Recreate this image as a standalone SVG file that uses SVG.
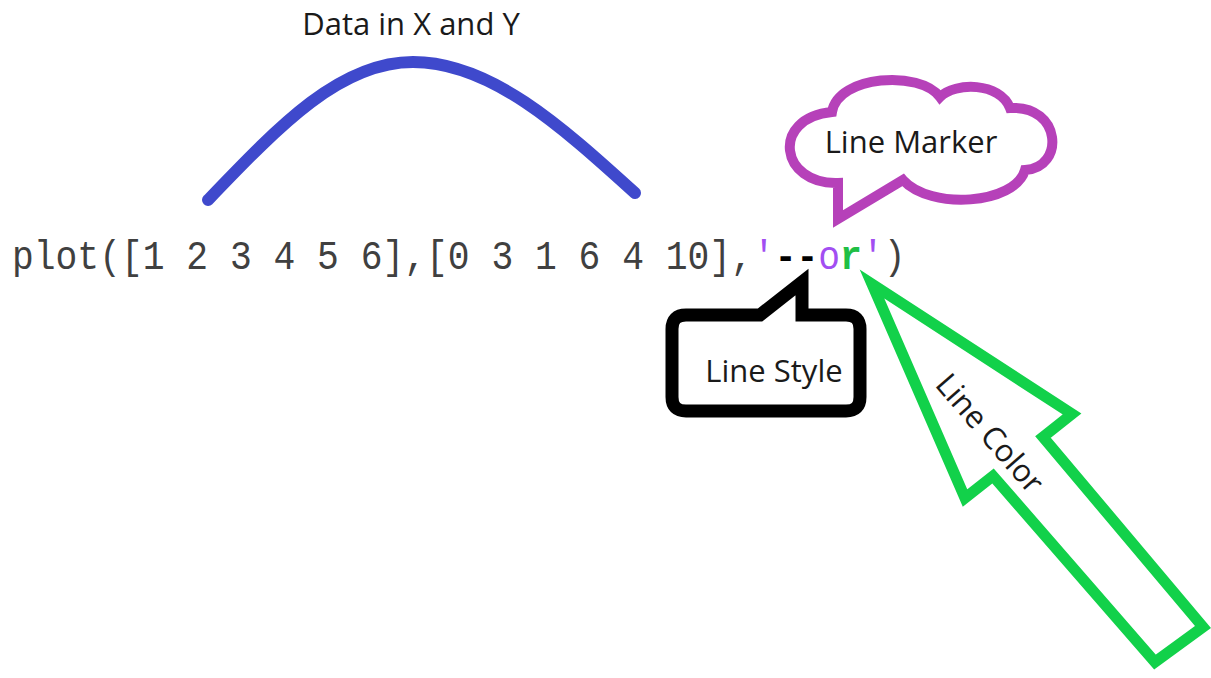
<svg xmlns="http://www.w3.org/2000/svg" width="1211" height="678" viewBox="0 0 1211 678">
<style>
.lbl{font-family:"Open Sans","Noto Sans","Liberation Sans",sans-serif;font-size:31px;fill:#1a1a1a}
.code{font-family:"Liberation Mono","DejaVu Sans Mono",monospace;font-size:41px;fill:#404040}
</style>
<rect width="1211" height="678" fill="#fff"/>
<g id="code">
<g transform="translate(12,269) scale(0.886,1)">
<text class="code" x="0" y="0">plot([1 2 3 4 5 6],[0 3 1 6 4 10],<tspan fill="#a24ef2">'</tspan><tspan fill="#000" font-weight="bold">--</tspan><tspan fill="#a24ef2">o</tspan><tspan fill="#1fbf45" font-weight="bold">r</tspan><tspan fill="#a24ef2">'</tspan>)</text>
</g>
</g>
<g id="connectors">
<path id="data-arc" d="M208,200 C280,125 340,62 413,62 C490,62 560,125 635,193" fill="none" stroke="#3f49cc" stroke-width="12" stroke-linecap="round"/>
</g>
<g id="data-label">
<text class="lbl" x="411" y="35" text-anchor="middle">Data in X and Y</text>
</g>
<g id="line-marker">
<path d="M838,183 C780,185 770,118 832,112 C838,75 920,70 940,97 C955,82 1000,82 1010,108 C1062,105 1065,168 1025,170 C1015,205 930,210 903,180 L838,219 Z" fill="#fff" stroke="#b641b9" stroke-width="10" stroke-linejoin="miter"/>
<text class="lbl" x="911" y="153" text-anchor="middle">Line Marker</text>
</g>
<g id="line-style">
<path d="M686,315 L760,315 L802,282 L802,315 L846,315 Q860,315 860,329 L860,397 Q860,411 846,411 L686,411 Q672,411 672,397 L672,329 Q672,315 686,315 Z" fill="#fff" stroke="#000" stroke-width="13" stroke-linejoin="miter"/>
<text class="lbl" x="774" y="382" text-anchor="middle">Line Style</text>
</g>
<g id="line-color">
<polygon points="872,284 965,498 993,476 1155,662 1203,627 1043,437 1072,414" fill="#fff" stroke="#12d14a" stroke-width="11" stroke-linejoin="miter"/>
<text class="lbl" transform="translate(990,433) rotate(49)" x="0" y="11" text-anchor="middle">Line Color</text>
</g>
</svg>
